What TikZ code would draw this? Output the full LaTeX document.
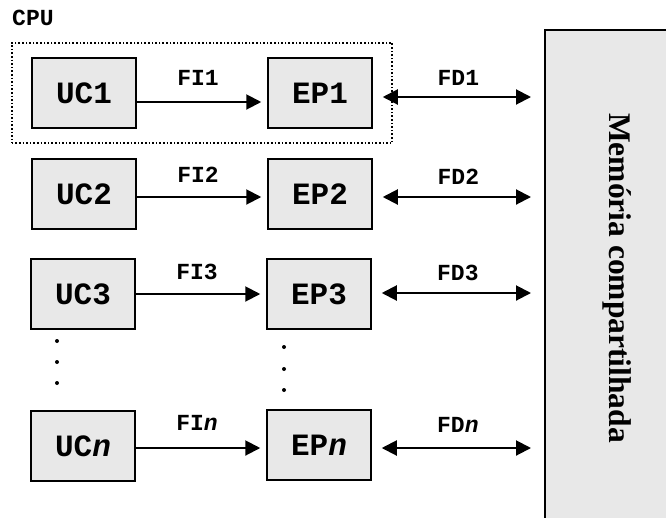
\documentclass[tikz,border=0pt]{standalone}
\usepackage{fontspec}
\setmainfont{Liberation Serif}
\setmonofont{Liberation Mono}
\definecolor{boxgray}{RGB}{232, 232, 232}
\usetikzlibrary{arrows.meta,positioning,fit}

\begin{document}
\begin{tikzpicture}[x=1pt, y=-1pt, >={Triangle[length=15pt,width=15pt]},
    unit/.style={draw, fill=boxgray, line width=1.5pt, minimum width=104pt, minimum height=70pt,
        inner sep=0pt, font=\ttfamily\bfseries\fontsize{31}{31}\selectfont},
    lbl/.style={inner sep=0pt, font=\ttfamily\bfseries\fontsize{23}{23}\selectfont},
    flow/.style={->, line width=2pt}]
    \useasboundingbox (0,0) rectangle (666,517);
    \clip (0,0) rectangle (666,517);

    % Control units and processing elements
    \node[unit] (uc1) at (84,93) {UC1};
    \node[unit] (ep1) at (320,93) {EP1};
    \node[unit] (uc2) at (84,194) {UC2};
    \node[unit] (ep2) at (320,194) {EP2};
    \node[unit] (uc3) at (83,294) {UC3};
    \node[unit] (ep3) at (319,294) {EP3};
    \node[unit] (ucn) at (83,446) {UC\textit{n}};
    \node[unit] (epn) at (319,445) {EP\textit{n}};

    % CPU frame
    \node[draw, line width=1.6pt, dash pattern=on 1.6pt off 2pt, inner xsep=19.5pt, inner ysep=14.5pt,
        fit=(uc1)(ep1)] (cpu) {};
    \node[lbl, anchor=base west] (cpulbl) at (12,25.5) {CPU};

    % Shared memory
    \node[draw, fill=boxgray, line width=2pt, minimum width=144pt, minimum height=496pt, inner sep=0pt,
        font=\bfseries\fontsize{31.5}{31.5}\selectfont] (mem) at (617,278)
        {\rotatebox{-90}{Memória compartilhada}};

    % Instruction streams
    \draw[flow, shorten >=6pt] ([yshift=-9pt]uc1.east) -- ([yshift=-9pt]ep1.west)
        node[lbl, midway, xshift=-4pt, yshift=24pt] (fi1) {FI1};
    \draw[flow, shorten >=6pt] ([yshift=-3pt]uc2.east) -- ([yshift=-3pt]ep2.west)
        node[lbl, midway, xshift=-4pt, yshift=22pt] (fi2) {FI2};
    \draw[flow, shorten >=6pt] (uc3.east) -- (ep3.west)
        node[lbl, midway, xshift=-4pt, yshift=22pt] (fi3) {FI3};
    \draw[flow, shorten >=6pt] ([yshift=-2pt]ucn.east) -- ([yshift=-2pt]epn.west |- ucn.east)
        node[lbl, midway, xshift=-4pt, yshift=25pt] (fin) {FI\textit{n}};

    % Data streams
    \draw[flow, <->, shorten <=10pt, shorten >=13pt] ([yshift=-4pt]ep1.east) -- ([yshift=-4pt]mem.west |- ep1.east)
        node[lbl, midway, yshift=19pt] (fd1) {FD1};
    \draw[flow, <->, shorten <=10pt, shorten >=13pt] ([yshift=-3pt]ep2.east) -- ([yshift=-3pt]mem.west |- ep2.east)
        node[lbl, midway, yshift=20pt] (fd2) {FD2};
    \draw[flow, <->, shorten <=10pt, shorten >=13pt] ([yshift=1pt]ep3.east) -- ([yshift=1pt]mem.west |- ep3.east)
        node[lbl, midway, yshift=20pt] (fd3) {FD3};
    \draw[flow, <->, shorten <=10pt, shorten >=13pt] ([yshift=-3pt]epn.east) -- ([yshift=-3pt]mem.west |- epn.east)
        node[lbl, midway, yshift=23pt] (fdn) {FD\textit{n}};

    % Ellipsis dots
    \foreach \y in {341,362,383} \fill (57,\y) circle (2pt);
    \foreach \y in {347,369,390} \fill (284,\y) circle (2pt);
\end{tikzpicture}
\end{document}
